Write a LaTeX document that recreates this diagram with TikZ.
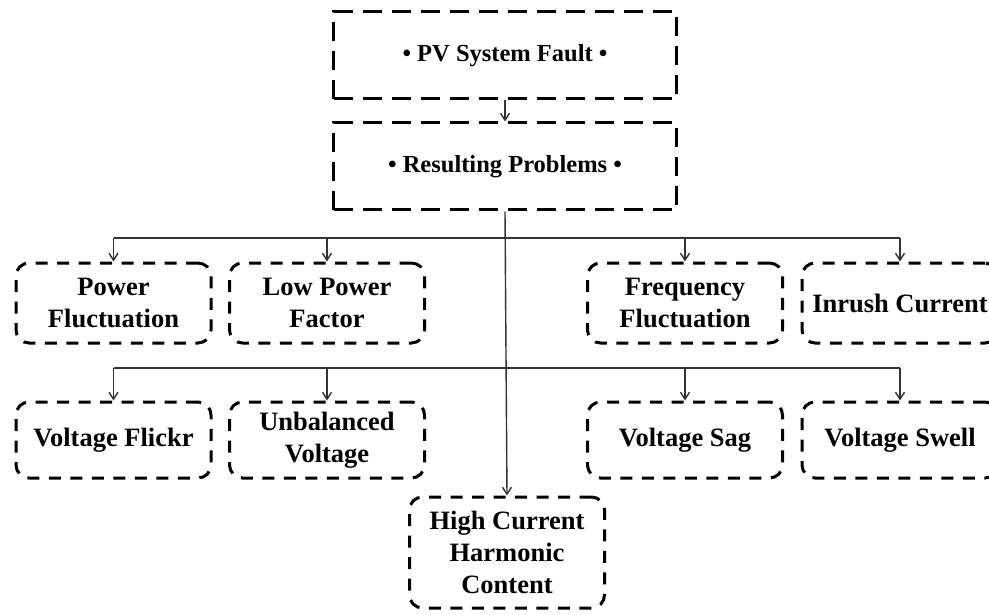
\documentclass[tikz,border=0pt]{standalone}
\usepackage{fontspec}
\setmainfont{Liberation Serif}
\usetikzlibrary{arrows.meta}
\begin{document}
\begin{tikzpicture}[x=1pt,y=-1pt,
  font=\bfseries\fontsize{26.5}{32}\selectfont,
  topbox/.style={draw=black, line width=3pt, dash pattern=on 19pt off 10pt,
    minimum width=343pt, minimum height=87pt, inner sep=0pt, align=center,
    font=\bfseries\fontsize{24.5}{30}\selectfont},
  probbox/.style={draw=black, line width=3pt, dash pattern=on 12pt off 9.5pt,
    rounded corners=13pt, minimum width=195pt, minimum height=80pt, inner sep=0pt, align=center},
  conn/.style={draw=black!80, line width=1.4pt},
  arr/.style={conn, -{Straight Barb[length=7pt,width=9pt,line width=1.4pt]}}
]
\useasboundingbox (0,0) rectangle (989,615);
\fill[white] (0,0) rectangle (989,615);
\clip (0,0) rectangle (989,615);

\node[topbox] (top) at (505,55.5) {• PV System Fault •};
\node[topbox] (rp) at (505,166.5) {• Resulting Problems •};

\node[probbox] (pf) at (113.5,303) {Power\\Fluctuation};
\node[probbox] (lpf) at (327,303) {Low Power\\Factor};
\node[probbox] (ff) at (685,303) {Frequency\\Fluctuation};
\node[probbox, minimum width=196pt] (ic) at (900,303) {Inrush Current};

\node[probbox, minimum height=76pt] (vf) at (113.5,440) {Voltage Flickr};
\node[probbox, minimum height=76pt] (uv) at (327,440) {Unbalanced\\Voltage};
\node[probbox, minimum height=76pt] (vsag) at (685,440) {Voltage Sag};
\node[probbox, minimum height=76pt, minimum width=196pt] (vsw) at (900,440) {Voltage Swell};

\node[probbox, minimum height=111pt] (hc) at (507,552.5) {High Current\\Harmonic\\Content};

\coordinate (h1) at (0,238);
\coordinate (h2) at (0,368);

\draw[arr] (top.south) -- (rp.north);
\draw[arr] (rp.south) -- (hc.north);

\draw[conn] (pf.north |- h1) -- (ic.north |- h1);
\draw[arr] (pf.north |- h1) -- (pf.north);
\draw[arr] (lpf.north |- h1) -- (lpf.north);
\draw[arr] (ff.north |- h1) -- (ff.north);
\draw[arr] (ic.north |- h1) -- (ic.north);

\draw[conn] (vf.north |- h2) -- (vsw.north |- h2);
\draw[arr] (vf.north |- h2) -- (vf.north);
\draw[arr] (uv.north |- h2) -- (uv.north);
\draw[arr] (vsag.north |- h2) -- (vsag.north);
\draw[arr] (vsw.north |- h2) -- (vsw.north);
\end{tikzpicture}
\end{document}
